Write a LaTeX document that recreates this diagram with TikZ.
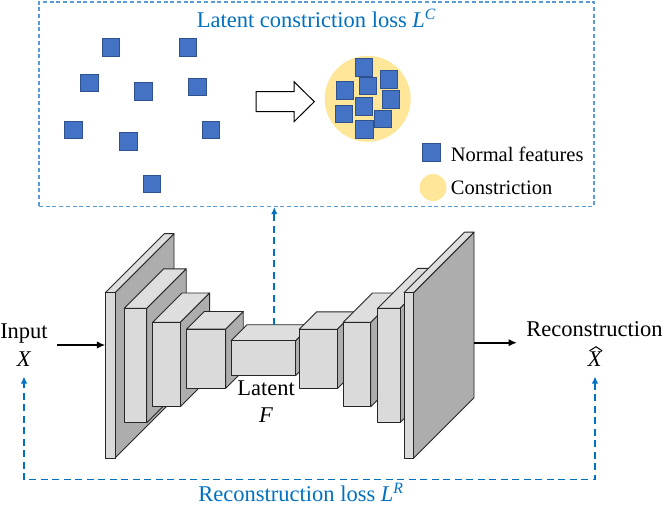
\documentclass[tikz,border=0pt]{standalone}
\usepackage{fontspec}
\setmainfont{Liberation Serif}
\usetikzlibrary{arrows.meta}
\definecolor{lossblue}{HTML}{0070C0}
\definecolor{boxblue}{HTML}{5B9BD5}
\definecolor{featblue}{HTML}{4472C4}
\definecolor{featedge}{HTML}{2F528F}
\definecolor{constr}{HTML}{FFE699}
\definecolor{frontgray}{HTML}{DADADA}
\definecolor{topgray}{HTML}{DEDEDE}
\definecolor{sidegray}{HTML}{ADADAD}
\definecolor{edgegray}{HTML}{262626}
\tikzset{
  cubeface/.style={draw=edgegray,line width=0.9pt,line join=round},
  lbl/.style={inner sep=0pt,font=\fontsize{22.5}{26}\selectfont},
  bluelbl/.style={lbl,text=lossblue},
  leg/.style={inner sep=0pt,font=\fontsize{20.5}{24}\selectfont},
  feat/.style={rectangle,draw=featedge,fill=featblue,line width=0.8pt,minimum size=17.3pt,inner sep=0pt},
  constrnode/.style={circle,fill=constr,inner sep=0pt},
  lossbox/.style={draw=boxblue,line width=1.3pt,dash pattern=on 4pt off 2.7pt,minimum width=555pt,minimum height=204.5pt,inner sep=0pt},
  fbline/.style={draw=lossblue,line width=1.8pt,dash pattern=on 7pt off 4.5pt,-{Latex[length=7pt,width=6.5pt]}},
  blackarrow/.style={draw=black,line width=2pt,-{Latex[length=8.5pt,width=7.5pt]}},
  hollow/.style={draw=black,fill=white,line width=1pt,line join=miter},
  hatmark/.style={draw=black,line width=1pt,line join=miter}
}
% x y w h d
\newcommand\mycuboid[5]{%
  \path[cubeface,fill=sidegray] (#1+#3,#2) -- (#1+#3+#5,#2-#5) -- (#1+#3+#5,#2+#4-#5) -- (#1+#3,#2+#4) -- cycle;
  \path[cubeface,fill=topgray] (#1,#2) -- (#1+#5,#2-#5) -- (#1+#3+#5,#2-#5) -- (#1+#3,#2) -- cycle;
  \path[cubeface,fill=frontgray] (#1,#2) rectangle (#1+#3,#2+#4);
}
\begin{document}
\begin{tikzpicture}[x=1pt,y=-1pt]
\useasboundingbox (0,0) rectangle (664,505);

% ---- latent constriction box ----
\node[lossbox] (cbox) at (316.5,104.2) {};
\node[bluelbl,anchor=base] (closs) at (316.5,27.3) {Latent constriction loss \textit{L}\textsuperscript{\textit{C}}};

% scattered features
\node[feat] (f1) at (111,47.5) {};
\node[feat] (f2) at (187.7,47.5) {};
\node[feat] (f3) at (89.3,83) {};
\node[feat] (f4) at (143.3,91.3) {};
\node[feat] (f5) at (197.3,87) {};
\node[feat] (f6) at (73.5,130) {};
\node[feat] (f7) at (128.3,141.5) {};
\node[feat] (f8) at (211,130) {};
\node[feat] (f9) at (151.7,183.8) {};

% hollow arrow
\draw[hollow] (256,91.7) -- (294,91.7) -- (294,81.7) -- (314.3,101.7) -- (294,121.7) -- (294,111.7) -- (256,111.7) -- cycle;

% constricted features
\node[constrnode,minimum size=86pt] (cz) at (367.7,98.8) {};
\node[feat] (g1) at (363.8,67.3) {};
\node[feat] (g2) at (388.7,79.3) {};
\node[feat] (g3) at (368,86) {};
\node[feat] (g4) at (344.8,90.3) {};
\node[feat] (g5) at (391,99.3) {};
\node[feat] (g6) at (363.8,106.3) {};
\node[feat] (g7) at (343.8,113.8) {};
\node[feat] (g8) at (382.8,118.7) {};
\node[feat] (g9) at (364.5,129.5) {};

% legend
\node[feat,minimum size=18pt] (legsq) at (431.7,152.5) {};
\node[leg,anchor=base west] (legF) at (450.7,161.7) {Normal features};
\node[constrnode,minimum size=27pt] (legcirc) at (433,187.5) {};
\node[leg,anchor=base west] (legC) at (450.7,194.3) {Constriction};

% ---- autoencoder ----
\mycuboid{105.3}{292.7}{9.7}{165.3}{59}
\mycuboid{124.3}{308.3}{22.4}{114.4}{39.5}
\mycuboid{152.7}{322.3}{27.6}{84.4}{29.3}
\mycuboid{186.7}{329}{39}{59.3}{17.5}
\mycuboid{231}{340.7}{64.5}{35}{16}
\mycuboid{299.3}{329.3}{38}{59.5}{17.5}
\mycuboid{343.3}{322.3}{27.4}{84.4}{29.3}
\mycuboid{377.7}{308.3}{22.3}{114.4}{40}
\mycuboid{404}{292.7}{9.5}{165.6}{60.5}

\coordinate (encIn) at (105.3,345);
\coordinate (inStart) at (57,345);
\coordinate (decOut) at (474,342.7);
\coordinate (outEnd) at (517,342.7);
\coordinate (latTop) at (274.3,324.7);
\coordinate (fbR) at (595,479.5);
\coordinate (fbL) at (24,479.5);
\coordinate (xhatTip) at (595,376.5);
\coordinate (xinTip) at (24,376.5);

% labels
\node[lbl,anchor=base] (inlbl) at (24,338.3) {Input};
\node[lbl,anchor=base] (xin) at (24,366.7) {\textit{X}};
\node[lbl,anchor=base] (reclbl) at (594.5,336.7) {Reconstruction};
\node[lbl,anchor=base] (xhat) at (595,366.7) {\textit{X}};
\draw[hatmark] ([shift={(-5.5,-1)}]xhat.north) -- ([shift={(1,-5)}]xhat.north) -- ([shift={(7,-1)}]xhat.north);
\node[lbl,anchor=base] (latlbl) at (266,395.7) {Latent};
\node[lbl,anchor=base] (flbl) at (266,422.7) {\textit{F}};
\node[bluelbl,anchor=base] (rloss) at (301,501.5) {Reconstruction loss \textit{L}\textsuperscript{\textit{R}}};

% connectors
\draw[blackarrow] (inStart) -- (encIn);
\draw[blackarrow] (decOut) -- (outEnd);
\draw[fbline] (latTop) -- (latTop |- cbox.south);
\draw[fbline,{Latex[length=7pt,width=6.5pt]}-{Latex[length=7pt,width=6.5pt]}] (xhatTip) -- (fbR) -- (fbL) -- (xinTip);
\end{tikzpicture}
\end{document}
